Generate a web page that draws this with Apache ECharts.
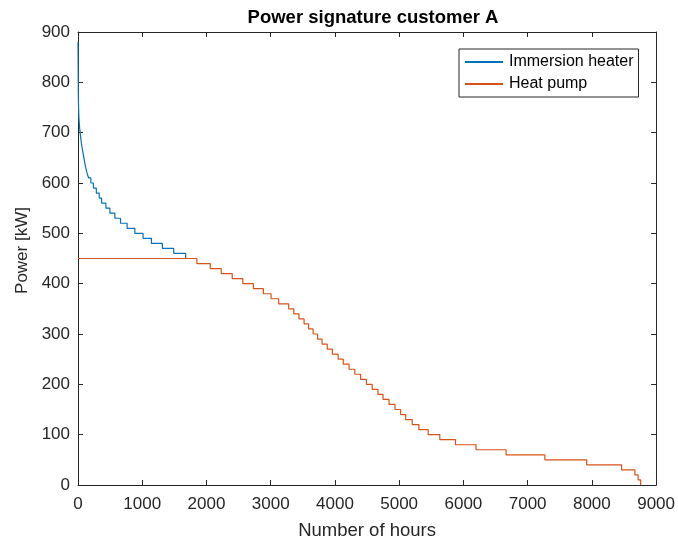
<!DOCTYPE html>
<html>
<head>
<meta charset="utf-8">
<script src="https://cdn.jsdelivr.net/npm/echarts@6/dist/echarts.min.js"></script>
<style>
  html, body { margin: 0; padding: 0; background: #fff; }
  #chart { width: 678px; height: 545px; }
</style>
</head>
<body>
<div id="chart"></div>
<script>
// Sorted duration curves: each level holds from its start hour until the next start hour.
const heaterHours = [0, 1, 2, 3, 4, 5, 6, 7, 9, 11, 14, 19, 25, 33, 42, 52, 64, 78, 92, 106, 121, 140, 165, 200, 240, 285, 330, 368, 434, 497, 574, 662, 765, 885, 1013, 1143, 1314, 1490, 1676];
const heaterPower = [880, 860, 840, 820, 800, 780, 770, 760, 750, 740, 730, 720, 710, 700, 690, 680, 670, 660, 650, 640, 630, 620, 610, 600, 590, 580, 570, 560, 550, 540, 530, 520, 510, 500, 490, 480, 470, 460, 450];

const pumpHours = [0, 1851, 2059, 2230, 2401, 2566, 2731, 2886, 3006, 3124, 3280, 3360, 3440, 3520, 3590, 3660, 3730, 3800, 3880, 3960, 4050, 4130, 4220, 4310, 4400, 4490, 4580, 4670, 4749, 4842, 4935, 5023, 5101, 5203, 5307, 5452, 5633, 5877, 6197, 6665, 7268, 7919, 8463, 8670, 8720, 8760];
const pumpPower = [450, 440, 430, 420, 410, 400, 390, 380, 370, 360, 350, 340, 330, 320, 310, 300, 290, 280, 270, 260, 250, 240, 230, 220, 210, 200, 190, 180, 170, 160, 150, 140, 130, 120, 110, 100, 90, 80, 70, 60, 50, 40, 30, 20, 10, 0];

const seriesNames = ['Immersion heater', 'Heat pump'];
const xTicks = { min: 0, max: 9000, interval: 1000 };
const yTicks = { min: 0, max: 900, interval: 100 };

const zip = (xs, ys) => xs.map((x, i) => [x, ys[i]]);

const axisColor = '#262626';
const font = 'Liberation Sans, Arial, Helvetica, sans-serif';
const plain = v => String(v);

function frameAxis(extra) {
  return Object.assign({
    type: 'value',
    axisLine: { show: true, onZero: false, lineStyle: { color: axisColor, width: 1 } },
    axisTick: { show: true, inside: true, length: 5, lineStyle: { color: axisColor } },
    splitLine: { show: false },
    axisLabel: { show: false }
  }, extra);
}

const chart = echarts.init(document.getElementById('chart'), null, { renderer: 'canvas' });
chart.setOption({
  animation: false,
  backgroundColor: '#ffffff',
  title: {
    text: 'Power signature customer A',
    left: 368,
    top: 3,
    textAlign: 'center',
    textStyle: { fontFamily: font, fontSize: 18.5, fontWeight: 'bold', color: '#000' }
  },
  grid: { left: 78, right: 20, top: 32, bottom: 57, containLabel: false },
  legend: {
    orient: 'vertical',
    left: 459,
    top: 49,
    padding: [5, 5, 5, 6],
    itemGap: 6,
    itemWidth: 38,
    itemHeight: 2,
    icon: 'rect',
    borderColor: '#262626',
    borderWidth: 1,
    backgroundColor: '#fff',
    textStyle: { fontFamily: font, fontSize: 16, color: '#000', padding: [0, 0, 0, 1] },
    data: seriesNames
  },
  xAxis: [
    frameAxis({
      position: 'bottom',
      min: xTicks.min, max: xTicks.max, interval: xTicks.interval,
      name: 'Number of hours',
      nameLocation: 'middle',
      nameGap: 36,
      nameTextStyle: { fontFamily: font, fontSize: 18.5, color: axisColor },
      axisLabel: { show: true, margin: 11, fontFamily: font, fontSize: 17, color: axisColor, formatter: plain }
    }),
    frameAxis({ position: 'top', min: xTicks.min, max: xTicks.max, interval: xTicks.interval })
  ],
  yAxis: [
    frameAxis({
      position: 'left',
      min: yTicks.min, max: yTicks.max, interval: yTicks.interval,
      name: 'Power [kW]',
      nameLocation: 'middle',
      nameGap: 42,
      nameTextStyle: { fontFamily: font, fontSize: 17, color: axisColor, padding: [0, 0, 0, 16] },
      axisLabel: { show: true, margin: 8, fontFamily: font, fontSize: 17, color: axisColor, formatter: plain }
    }),
    frameAxis({ position: 'right', min: yTicks.min, max: yTicks.max, interval: yTicks.interval })
  ],
  series: [
    {
      name: seriesNames[0],
      type: 'line',
      step: 'end',
      showSymbol: false,
      xAxisIndex: 0,
      yAxisIndex: 0,
      color: '#0072BD',
      lineStyle: { width: 1.2, color: '#0072BD' },
      data: zip(heaterHours, heaterPower)
    },
    {
      name: seriesNames[1],
      type: 'line',
      step: 'end',
      showSymbol: false,
      xAxisIndex: 0,
      yAxisIndex: 0,
      color: '#D95319',
      lineStyle: { width: 1.2, color: '#D95319' },
      data: zip(pumpHours, pumpPower)
    }
  ]
});
</script>
</body>
</html>
